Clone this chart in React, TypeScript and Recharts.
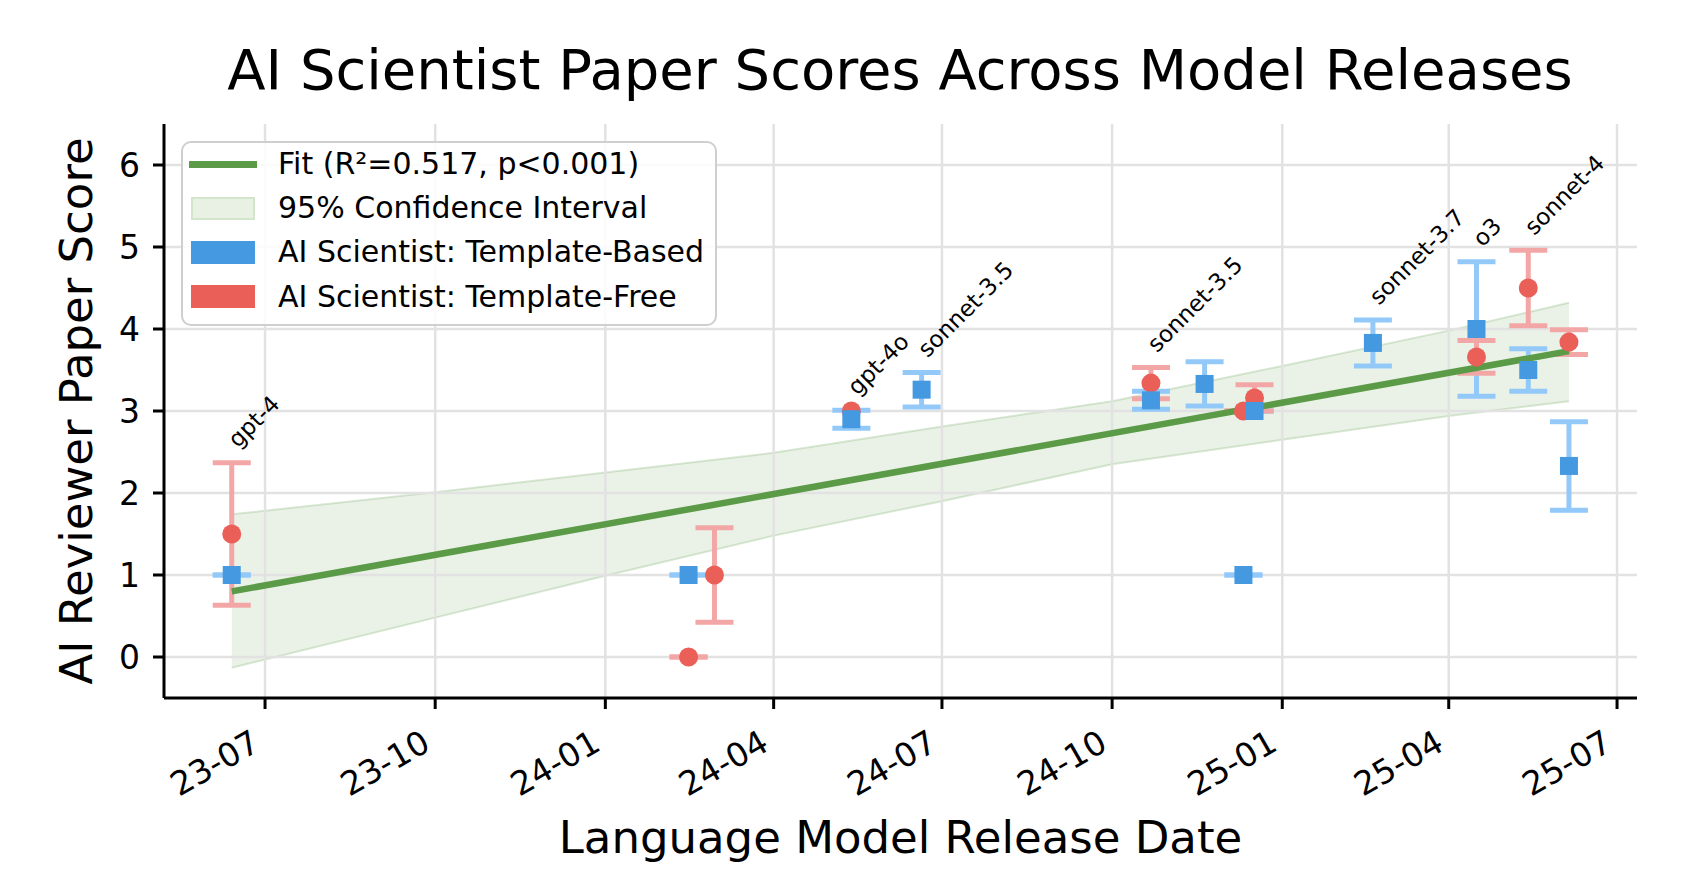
import React from "react";
import {
  ComposedChart,
  Area,
  Line,
  Scatter,
  ErrorBar,
  XAxis,
  YAxis,
  ReferenceLine,
  Legend,
} from "recharts";

const FONT = "'DejaVu Sans', sans-serif";
const BLUE = "#4599e0";
const BLUE_LIGHT = "#93c9f8";
const RED = "#eb5f59";
const RED_LIGHT = "#f2a7a6";
const GREEN = "#5b9a47";
const GRID = "#e2e2e2";

// axis ticks
const quarterTicks = [
  "2023-07-01",
  "2023-10-01",
  "2024-01-01",
  "2024-04-01",
  "2024-07-01",
  "2024-10-01",
  "2025-01-01",
  "2025-04-01",
  "2025-07-01",
];
const xStart = "2023-05-07T09:00:00Z";
const xEnd = "2025-07-11T19:00:00Z";
const scoreTicks = [0, 1, 2, 3, 4, 5, 6];

// AI Scientist: Template-Based
const basedDates = [
  "2023-06-13",
  "2024-02-15",
  "2024-05-13",
  "2024-06-20",
  "2024-10-22",
  "2024-11-20",
  "2024-12-11",
  "2024-12-17",
  "2025-02-19",
  "2025-04-16",
  "2025-05-14",
  "2025-06-05",
];
const basedScores = [1.0, 1.0, 2.9, 3.26, 3.13, 3.33, 1.0, 3.0, 3.83, 4.0, 3.5, 2.33];
const basedErrors = [0, 0, 0.11, 0.21, 0.11, 0.27, 0, 0, 0.28, 0.82, 0.26, 0.54];

// AI Scientist: Template-Free (null = no error bar drawn)
const freeDates = [
  "2023-06-13",
  "2024-02-15",
  "2024-02-29",
  "2024-05-13",
  "2024-10-22",
  "2024-12-11",
  "2024-12-17",
  "2025-04-16",
  "2025-05-14",
  "2025-06-05",
];
const freeScores = [1.5, 0, 1.0, 3.0, 3.34, 3.0, 3.16, 3.66, 4.5, 3.84];
const freeErrors = [0.87, 0, 0.575, null, 0.19, 0, 0.16, 0.2, 0.46, 0.15];

// model annotations
const labelDates = [
  "2023-06-13",
  "2024-05-13",
  "2024-06-20",
  "2024-10-22",
  "2025-02-19",
  "2025-04-16",
  "2025-05-14",
];
const labelNames = ["gpt-4", "gpt-4o", "sonnet-3.5", "sonnet-3.5", "sonnet-3.7", "o3", "sonnet-4"];

// regression fit and its confidence band
const fitDates = ["2023-06-13", "2025-06-05"];
const fitScores = [0.8, 3.73];
const bandDates = [
  "2023-06-13",
  "2023-10-01",
  "2024-01-01",
  "2024-04-01",
  "2024-07-01",
  "2024-10-01",
  "2025-01-01",
  "2025-04-01",
  "2025-06-05",
];
const bandLower = [-0.13, 0.48, 0.99, 1.48, 1.9, 2.35, 2.65, 2.94, 3.12];
const bandUpper = [1.74, 2.01, 2.25, 2.49, 2.81, 3.12, 3.55, 3.98, 4.32];

const legendNames = [
  "Fit (R²=0.517, p<0.001)",
  "95% Confidence Interval",
  "AI Scientist: Template-Based",
  "AI Scientist: Template-Free",
];

const toT = (d: string) => Date.parse(d);

// errors as [low, high] pairs so that zero-length bars still draw their caps
const pair = (e: number | null) => (e === null ? null : [e, e]);

const basedData = basedDates.map((d, i) => ({
  t: toT(d),
  y: basedScores[i],
  err: pair(basedErrors[i]),
}));
const freeData = freeDates.map((d, i) => ({
  t: toT(d),
  y: freeScores[i],
  err: pair(freeErrors[i]),
}));
const fitData = fitDates.map((d, i) => ({ t: toT(d), y: fitScores[i] }));
const bandData = bandDates.map((d, i) => ({ t: toT(d), range: [bandLower[i], bandUpper[i]] }));

const labelData = labelDates.map((d, i) => {
  const tops = [...basedData, ...freeData]
    .filter((p) => p.t === toT(d))
    .map((p) => p.y + (p.err ? p.err[1] : 0));
  return { t: toT(d), y: Math.max(...tops), name: labelNames[i] };
});

const fmtQuarter = (v: number) => new Date(v).toISOString().slice(2, 7);

const DateTick = (props: any) => {
  const { x, y, payload } = props;
  return (
    <g transform={`translate(${x - 3},${y + 40})`}>
      <text textAnchor="end" transform="rotate(-30)" fontSize={33} fontFamily={FONT} fill="#000">
        {fmtQuarter(payload.value)}
      </text>
    </g>
  );
};

const squareShape = (p: any) => <rect x={p.cx - 9} y={p.cy - 9} width={18} height={18} fill={BLUE} />;
const circleShape = (p: any) => <circle cx={p.cx} cy={p.cy} r={9.5} fill={RED} />;
const noShape = () => <g />;
const nameShape = (p: any) => (
  <text
    transform={`translate(${p.cx + 6},${p.cy - 14}) rotate(-45)`}
    fontSize={23}
    fontFamily={FONT}
    fill="#000"
  >
    {p.payload.name}
  </text>
);

const yTitle = (props: any) => {
  const { x, y, height } = props.viewBox;
  const cx = x + 28;
  const cy = y + height / 2;
  return (
    <text
      x={cx}
      y={cy}
      transform={`rotate(-90 ${cx} ${cy})`}
      textAnchor="middle"
      fontSize={45}
      fontFamily={FONT}
      fill="#000"
    >
      AI Reviewer Paper Score
    </text>
  );
};

const xTitle = (props: any) => {
  const { x, y, width } = props.viewBox;
  return (
    <text x={x + width / 2} y={y + 155} textAnchor="middle" fontSize={45} fontFamily={FONT} fill="#000">
      Language Model Release Date
    </text>
  );
};

const LegendBox = () => (
  <div
    style={{
      position: "relative",
      width: 536,
      height: 185,
      boxSizing: "border-box",
      border: "2.5px solid #cfcfcf",
      borderRadius: 10,
      background: "rgba(255,255,255,0.85)",
      fontFamily: FONT,
    }}
  >
    {legendNames.map((name, i) => {
      const center = 21 + i * 44.2;
      const handle =
        i === 0 ? (
          <div style={{ position: "absolute", left: 6, top: center - 3.5, width: 68, height: 7, background: GREEN }} />
        ) : (
          <div
            style={{
              position: "absolute",
              left: 8,
              top: center - 11.5,
              width: 64,
              height: 23,
              boxSizing: "border-box",
              background: i === 1 ? "#e9f1e5" : i === 2 ? BLUE : RED,
              border: i === 1 ? "2px solid #d3e6cb" : "none",
            }}
          />
        );
      return (
        <React.Fragment key={name}>
          {handle}
          <div
            style={{
              position: "absolute",
              left: 95,
              top: center - 20,
              height: 40,
              lineHeight: "40px",
              fontSize: 30,
              color: "#000",
              whiteSpace: "nowrap",
            }}
          >
            {name}
          </div>
        </React.Fragment>
      );
    })}
  </div>
);

export default function App() {
  return (
    <div style={{ position: "absolute", left: 0, top: 0, width: 1700, height: 888, background: "#fff" }}>
      <div
        style={{
          position: "absolute",
          left: 900,
          top: 42,
          transform: "translateX(-50%)",
          fontFamily: FONT,
          fontSize: 56,
          lineHeight: "56px",
          color: "#000",
          whiteSpace: "nowrap",
        }}
      >
        AI Scientist Paper Scores Across Model Releases
      </div>
      <ComposedChart width={1700} height={888} margin={{ top: 124, right: 63, bottom: 90, left: 64 }}>
        <XAxis
          dataKey="t"
          type="number"
          domain={[toT(xStart), toT(xEnd)]}
          ticks={quarterTicks.map(toT)}
          allowDataOverflow
          height={100}
          tick={<DateTick />}
          tickSize={11}
          tickMargin={0}
          tickLine={{ stroke: "#000", strokeWidth: 3 }}
          axisLine={{ stroke: "#000", strokeWidth: 3 }}
          label={xTitle}
        />
        <YAxis
          dataKey="y"
          type="number"
          domain={[-0.5, 6.5]}
          ticks={scoreTicks}
          allowDataOverflow
          width={100}
          tickSize={11}
          tickMargin={13}
          tick={{ fontSize: 33, fill: "#000", fontFamily: FONT }}
          tickLine={{ stroke: "#000", strokeWidth: 3 }}
          axisLine={{ stroke: "#000", strokeWidth: 3 }}
          label={yTitle}
        />
        <Legend
          layout="vertical"
          align="center"
          verticalAlign="middle"
          wrapperStyle={{ left: 181, top: 141, width: 536, height: 185 }}
          content={() => <LegendBox />}
        />
        {scoreTicks.map((v) => (
          <ReferenceLine key={`h${v}`} y={v} stroke={GRID} strokeWidth={2.5} />
        ))}
        {quarterTicks.map((d) => (
          <ReferenceLine key={`v${d}`} x={toT(d)} stroke={GRID} strokeWidth={2.5} />
        ))}
        <Area
          data={bandData}
          dataKey="range"
          type="linear"
          fill={GREEN}
          fillOpacity={0.13}
          stroke={GREEN}
          strokeOpacity={0.22}
          strokeWidth={2}
          isAnimationActive={false}
          legendType="none"
        />
        <Scatter data={basedData} shape={noShape} isAnimationActive={false} legendType="none">
          <ErrorBar dataKey="err" direction="y" width={19} stroke={BLUE_LIGHT} strokeWidth={5} />
        </Scatter>
        <Scatter data={freeData} shape={noShape} isAnimationActive={false} legendType="none">
          <ErrorBar dataKey="err" direction="y" width={19} stroke={RED_LIGHT} strokeWidth={5} />
        </Scatter>
        <Line
          data={fitData}
          dataKey="y"
          type="linear"
          stroke={GREEN}
          strokeWidth={6.5}
          dot={false}
          activeDot={false}
          isAnimationActive={false}
          legendType="none"
        />
        <Scatter data={freeData} shape={circleShape} isAnimationActive={false} legendType="none" />
        <Scatter data={basedData} shape={squareShape} isAnimationActive={false} legendType="none" />
        <Scatter data={labelData} shape={nameShape} isAnimationActive={false} legendType="none" />
      </ComposedChart>
    </div>
  );
}
